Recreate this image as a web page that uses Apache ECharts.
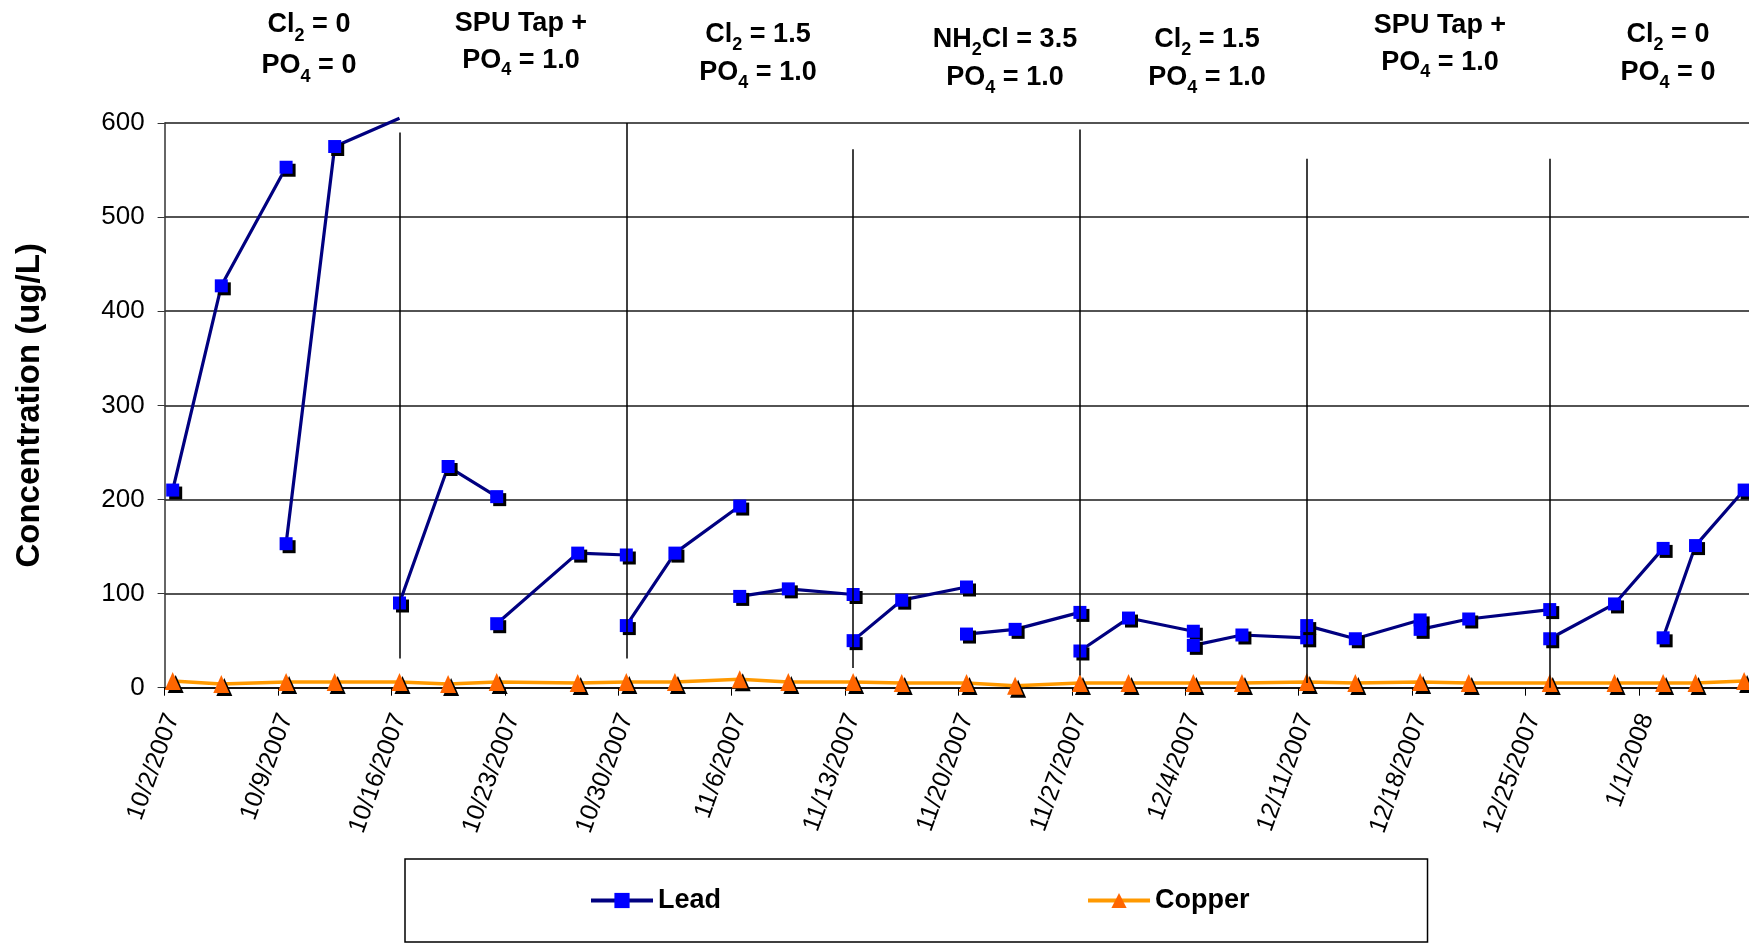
<!DOCTYPE html>
<html><head><meta charset="utf-8">
<script src="https://cdn.jsdelivr.net/npm/echarts@6/dist/echarts.min.js"></script>
<style>html,body{margin:0;padding:0;background:#fff}#c{width:1749px;height:944px}</style>
</head><body><div id="c"></div>
<script>
// ---------------- data ----------------
const startDate = '10/2/2007';
const tickLabels = ['10/2/2007','10/9/2007','10/16/2007','10/23/2007','10/30/2007','11/6/2007','11/13/2007',
  '11/20/2007','11/27/2007','12/4/2007','12/11/2007','12/18/2007','12/25/2007','1/1/2008'];
const yTicks = [0,100,200,300,400,500,600];

// null entries separate the weekly segments of the Lead line
const leadDates = [
  '10/2/2007','10/5/2007','10/9/2007', null,
  '10/9/2007','10/12/2007','10/16/2007', null,
  '10/16/2007','10/19/2007','10/22/2007', null,
  '10/22/2007','10/27/2007','10/30/2007', null,
  '10/30/2007','11/2/2007','11/6/2007', null,
  '11/6/2007','11/9/2007','11/13/2007', null,
  '11/13/2007','11/16/2007','11/20/2007', null,
  '11/20/2007','11/23/2007','11/27/2007', null,
  '11/27/2007','11/30/2007','12/4/2007', null,
  '12/4/2007','12/7/2007','12/11/2007', null,
  '12/11/2007','12/14/2007','12/18/2007', null,
  '12/18/2007','12/21/2007','12/26/2007', null,
  '12/26/2007','12/30/2007','1/2/2008', null,
  '1/2/2008','1/4/2008','1/7/2008'];
const leadValues = [
  210,427,553,null,
  153,575,605,null,
  90,235,203,null,
  68,143,141,null,
  66,143,193,null,
  97,105,99,null,
  50,93,107,null,
  57,62,80,null,
  39,74,60,null,
  45,56,53,null,
  66,52,72,null,
  62,73,83,null,
  52,89,148,null,
  53,151,210];

const copperDates = ['10/2/2007','10/5/2007','10/9/2007','10/12/2007','10/16/2007','10/19/2007','10/22/2007',
  '10/27/2007','10/30/2007','11/2/2007','11/6/2007','11/9/2007','11/13/2007','11/16/2007','11/20/2007',
  '11/23/2007','11/27/2007','11/30/2007','12/4/2007','12/7/2007','12/11/2007','12/14/2007','12/18/2007',
  '12/21/2007','12/26/2007','12/30/2007','1/2/2008','1/4/2008','1/7/2008'];
const copperValues = [7,4,6,6,6,4,6,5,6,6,9,6,6,5,5,2,5,5,5,5,6,5,6,5,5,5,5,5,7];

// treatment-change divider lines
const dividerDates = ['10/16/2007','10/30/2007','11/13/2007','11/27/2007','12/11/2007','12/26/2007'];
const dividerTop = [590,600,572,593,562,562];
const dividerBottom = [31,31,21,13,5,0];

// treatment labels (line 1, line 2); _n = subscript
const phaseLine1 = ['Cl_2 = 0','SPU Tap +','Cl_2 = 1.5','NH_2Cl = 3.5','Cl_2 = 1.5','SPU Tap +','Cl_2 = 0'];
const phaseLine2 = ['PO_4 = 0','PO_4 = 1.0','PO_4 = 1.0','PO_4 = 1.0','PO_4 = 1.0','PO_4 = 1.0','PO_4 = 0'];

// ---------------- helpers ----------------
const DAY = 86400000;
function toUTC(s){ const p = s.split('/'); return Date.UTC(+p[2], +p[0]-1, +p[1]); }
const t0 = toUTC(startDate);
// Excel date axis: a point on date D sits in the middle of that day
function xOf(s){ return (toUTC(s) - t0) / DAY + 0.5; }

const Y_MIN = yTicks[0], Y_MAX = yTicks[yTicks.length-1], Y_INT = yTicks[1]-yTicks[0];
const X_MIN = 0, X_INT = 7, X_MAX = 97.8;

const leadData = [];
let lastX = 0;
leadDates.forEach((d,i)=>{
  if (d === null || leadValues[i] === null) { leadData.push([lastX, '-']); return; }
  lastX = xOf(d);
  const v = leadValues[i];
  if (v > Y_MAX) leadData.push({value:[lastX, v], symbol:'none'});
  else leadData.push([lastX, v]);
});
const copperData = copperDates.map((d,i)=>[xOf(d), copperValues[i]]);
const dividerLines = dividerDates.map((d,i)=>[
  {coord:[xOf(d), dividerBottom[i]]}, {coord:[xOf(d), dividerTop[i]]}
]);

function richText(s){ return '{b|' + s.replace(/_(\d)/g, '}{s|$1}{b|') + '}'; }
const FONT = '"Liberation Sans", Arial, sans-serif';
function richFor(lh){
  return {
    b:{fontFamily:FONT, fontSize:27, fontWeight:'bold', color:'#000', lineHeight:lh},
    s:{fontFamily:FONT, fontSize:18, fontWeight:'bold', color:'#000', lineHeight:lh, verticalAlign:'bottom'}
  };
}
const phasePos = [[309,4,41],[521,5,37],[758,16,38],[1005,21,38],[1207,21,38],[1440,7,37],[1668,16,38]];
const graphics = phaseLine1.map((l1,i)=>({
  type:'text', x:phasePos[i][0], y:phasePos[i][1], silent:true,
  style:{text: richText(l1) + '\n' + richText(phaseLine2[i]), rich:richFor(phasePos[i][2]), align:'center', verticalAlign:'top'}
}));

// ---------------- chart ----------------
const chart = echarts.init(document.getElementById('c'), null, {renderer:'canvas'});
chart.setOption({
  animation:false,
  backgroundColor:'#fff',
  textStyle:{fontFamily:FONT},
  grid:{left:164.6, right:0, top:123, bottom:256.3, containLabel:false, outerBoundsMode:'none'},
  xAxis:{
    type:'value', min:X_MIN, max:X_MAX, interval:X_INT,
    axisLine:{show:true, onZero:false, lineStyle:{color:'#000', width:1.5}},
    axisTick:{show:true, inside:false, length:8, lineStyle:{color:'#000'}},
    splitLine:{show:false},
    axisLabel:{
      rotate:70, margin:24, align:'right', verticalAlign:'top', lineHeight:17,
      color:'#000', fontFamily:FONT, fontSize:25,
      showMaxLabel:false, showMinLabel:true,
      formatter:(v)=>{ const k = Math.round(v/X_INT); return (Math.abs(v - k*X_INT) < 1e-6 && tickLabels[k]) ? tickLabels[k] : ''; }
    }
  },
  yAxis:{
    type:'value', min:Y_MIN, max:Y_MAX, interval:Y_INT,
    name:'Concentration (ug/L)', nameLocation:'middle', nameRotate:90, nameGap:118,
    nameTextStyle:{fontFamily:FONT, fontSize:33, fontWeight:'bold', color:'#000'},
    axisLine:{show:true, lineStyle:{color:'#333', width:1.5}},
    axisTick:{show:true, inside:false, length:7, lineStyle:{color:'#333'}},
    splitLine:{show:true, lineStyle:{color:'#1a1a1a', width:1.5}},
    axisLabel:{margin:20, color:'#000', fontFamily:FONT, fontSize:26}
  },
  legend:{
    data:['Lead','Copper'], left:405, top:859, orient:'horizontal',
    padding:[26,178,26,184], itemGap:365, itemWidth:62, itemHeight:19,
    borderColor:'#000', borderWidth:1.5, borderRadius:0,
    selectedMode:false,
    lineStyle:{width:4},
    textStyle:{fontFamily:FONT, fontSize:27, fontWeight:'bold', color:'#000', lineHeight:31}
  },
  graphic:graphics,
  series:[
    {
      name:'dividers', type:'line', data:[], silent:true, z:1,
      markLine:{silent:true, symbol:['none','none'], label:{show:false}, animation:false,
        lineStyle:{color:'#000', width:1.5, type:'solid'}, emphasis:{disabled:true},
        data:dividerLines}
    },
    {
      name:'Lead', type:'line', data:leadData, connectNulls:false, clip:false, z:3,
      symbol:'rect', symbolSize:13,
      lineStyle:{color:'#000080', width:3.2},
      itemStyle:{color:'#0000FF', shadowColor:'#000', shadowOffsetX:3, shadowOffsetY:3, shadowBlur:0},
      emphasis:{disabled:true}
    },
    {
      name:'Copper', type:'line', data:copperData, z:4, clip:false,
      symbol:'triangle', symbolSize:[16,18],
      lineStyle:{color:'#FF9900', width:3.5},
      itemStyle:{color:'#FF6600', shadowColor:'#000', shadowOffsetX:3, shadowOffsetY:3, shadowBlur:0},
      emphasis:{disabled:true}
    }
  ]
});
</script></body></html>
